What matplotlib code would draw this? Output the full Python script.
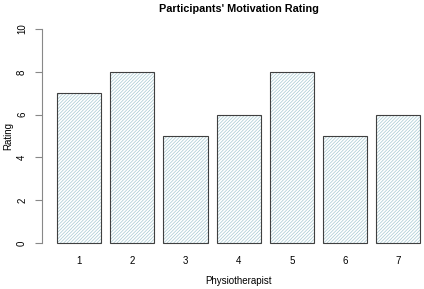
import numpy as np
import matplotlib
matplotlib.use('Agg')
import matplotlib.pyplot as plt

physio = ['1', '2', '3', '4', '5', '6', '7']
rating = [7, 8, 5, 6, 8, 5, 6]
yticks = [0, 2, 4, 6, 8, 10]

plt.rcParams['font.family'] = ['Liberation Sans', 'DejaVu Sans']
plt.rcParams['hatch.linewidth'] = 0.5

fig = plt.figure(figsize=(4.24, 2.89), dpi=100)
ax = fig.add_axes([0.1, 0.1294, 0.926, 0.7996])

# R-style barplot positions: width 1, space 0.2
x = 0.2 + 1.2 * np.arange(len(rating)) + 0.5
ax.bar(x, rating, width=1.0, color='white', edgecolor='#a6c9d1', hatch='//////////', linewidth=0)
ax.bar(x, rating, width=1.0, fill=False, edgecolor='#404040', linewidth=0.8)

ax.set_xlim(0.2 - 0.328, 8.4 + 0.328)
ax.set_ylim(-0.4, 10.4)
ax.set_xticks(x)
ax.set_xticklabels(physio, fontsize=7)
ax.tick_params(axis='x', length=0, pad=3)
ax.set_yticks(yticks)
ax.set_yticklabels([str(t) for t in yticks], fontsize=7, rotation=90, va='center')
ax.tick_params(axis='y', length=5, width=0.8, color='#888888', pad=6)

for s in ['top', 'right', 'bottom']:
    ax.spines[s].set_visible(False)
ax.spines['left'].set_bounds(0, 10)
ax.spines['left'].set_color('#888888')
ax.spines['left'].set_linewidth(0.8)

fig.text(0.563, 0.968, "Participants' Motivation Rating", ha='center', va='center',
         fontsize=7.8, fontweight='bold')
fig.text(0.563, 0.027, 'Physiotherapist', ha='center', va='center', fontsize=7)
fig.text(0.02, 0.53, 'Rating', ha='center', va='center', rotation=90, fontsize=7)

plt.savefig('out.png', dpi=100)
